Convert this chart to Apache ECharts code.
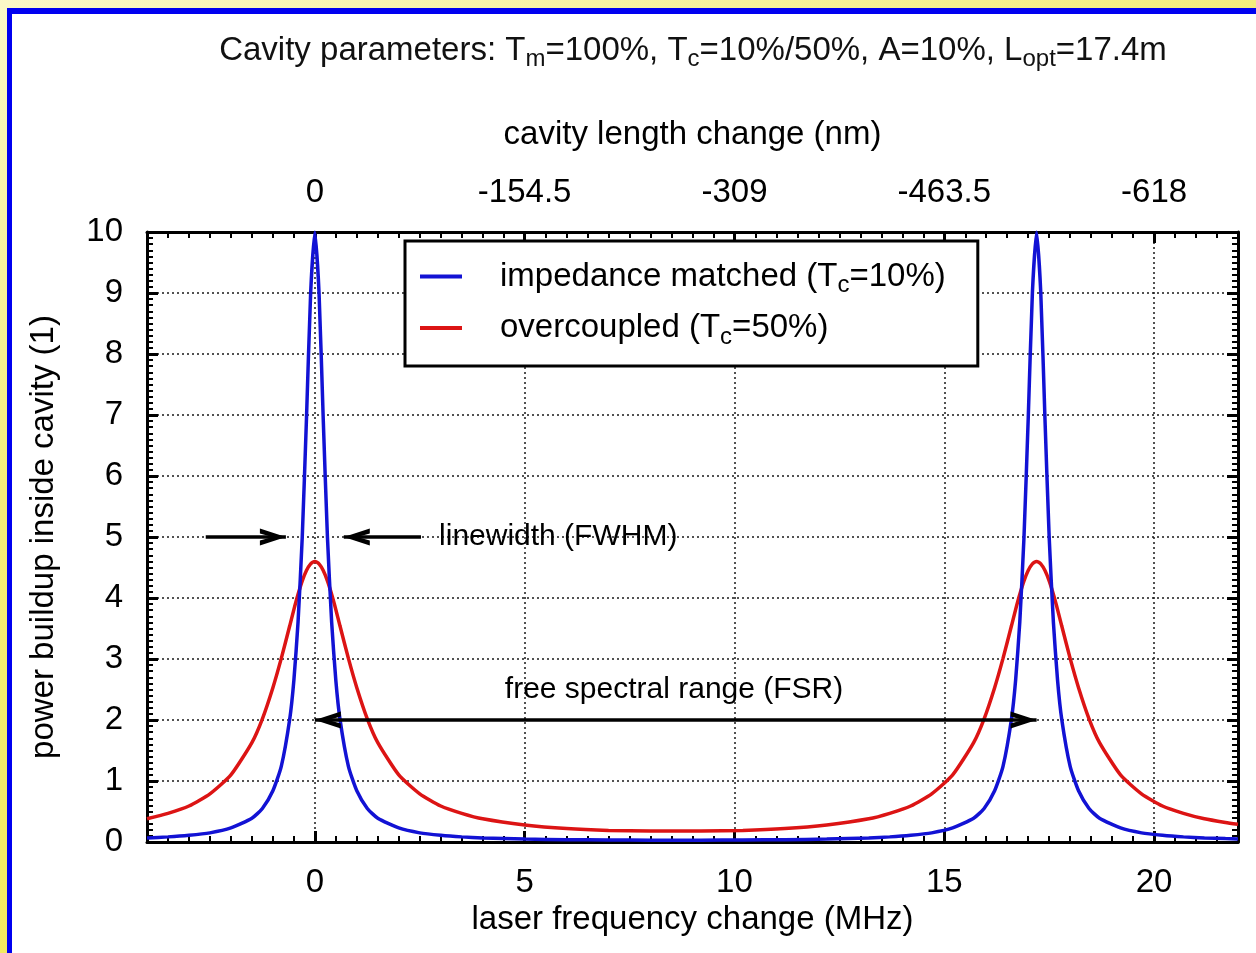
<!DOCTYPE html>
<html>
<head>
<meta charset="utf-8">
<script src="https://cdn.jsdelivr.net/npm/echarts@6/dist/echarts.min.js"></script>
<style>
html, body { margin: 0; padding: 0; width: 1256px; height: 953px; overflow: hidden; }
body { position: relative; background: linear-gradient(160deg, #fbf8c8 0%, #f4ed78 35%, #f1e846 100%); }
#frame { position: absolute; left: 7px; top: 8px; right: 0; bottom: 0; border-left: 5px solid #0000f0; border-top: 6px solid #0000f0; background: #fff; }
#main { position: absolute; left: 0; top: 0; width: 1256px; height: 953px; }
</style>
</head>
<body>
<div id="frame"></div>
<div id="main"></div>
<script>
// sample points (MHz)
var freqMHz = [
    -4, -3.5, -3, -2.5, -2, -1.5, -1.25, -1, -0.8, -0.6, -0.5, -0.4, -0.3, -0.2, -0.1, 0,
    0.1, 0.2, 0.3, 0.4, 0.5, 0.6, 0.8, 1, 1.25, 1.5, 2, 2.5, 3, 3.5, 4, 5, 6, 7, 8, 8.6,
    9.2, 10.2, 11.2, 12.2, 13.2, 13.7, 14.2, 14.7, 15.2, 15.7, 15.95, 16.2, 16.4, 16.6, 16.7, 16.8, 16.9, 17.0, 17.1, 17.2,
    17.3, 17.4, 17.5, 17.6, 17.7, 17.8, 18.0, 18.2, 18.45, 18.7, 19.2, 19.7, 20.2, 20.7, 21.2, 21.7, 22
];
// impedance matched, Tc = 10% (blue)
var matchedBuildup = [
    0.067, 0.084, 0.11, 0.15, 0.23, 0.39, 0.55, 0.84, 1.24, 2.01, 2.65, 3.61, 5.0, 6.93, 9.0, 10,
    9.0, 6.93, 5.0, 3.61, 2.65, 2.01, 1.24, 0.84, 0.55, 0.39, 0.23, 0.15, 0.11, 0.084, 0.067, 0.048, 0.038, 0.033, 0.030, 0.030,
    0.030, 0.033, 0.038, 0.048, 0.067, 0.084, 0.11, 0.15, 0.23, 0.39, 0.55, 0.84, 1.24, 2.01, 2.65, 3.61, 5.0, 6.93, 9.0, 10,
    9.0, 6.93, 5.0, 3.61, 2.65, 2.01, 1.24, 0.84, 0.55, 0.39, 0.23, 0.15, 0.11, 0.084, 0.067, 0.056, 0.051
];
// overcoupled, Tc = 50% (red)
var overcoupledBuildup = [
    0.38, 0.47, 0.59, 0.79, 1.10, 1.63, 2.02, 2.53, 3.01, 3.54, 3.81, 4.06, 4.28, 4.45, 4.56, 4.6,
    4.56, 4.45, 4.28, 4.06, 3.81, 3.54, 3.01, 2.53, 2.02, 1.63, 1.10, 0.79, 0.59, 0.47, 0.38, 0.28, 0.22, 0.19, 0.18, 0.18,
    0.18, 0.19, 0.22, 0.28, 0.38, 0.47, 0.59, 0.79, 1.10, 1.63, 2.02, 2.53, 3.01, 3.54, 3.81, 4.06, 4.28, 4.45, 4.56, 4.6,
    4.56, 4.45, 4.28, 4.06, 3.81, 3.54, 3.01, 2.53, 2.02, 1.63, 1.10, 0.79, 0.59, 0.47, 0.38, 0.32, 0.29
];
var mhzTicks = [0, 5, 10, 15, 20];
var nmTickLabels = ['0', '-154.5', '-309', '-463.5', '-618'];

var FONT = "'Liberation Sans', Arial, Helvetica, sans-serif";
var BLUE = '#1212d4';
var RED = '#dc1414';
// open arrow head, tip sits at the symbol centre
var ARROW = 'path://M5,0L5,0M5,12L10,24L7.1,24L5,18.2L2.9,24L0,24Z';
var ARROW_SIZE = [17, 52];

function pairs(xs, ys) {
    return xs.map(function (x, i) { return [x, ys[i]]; });
}

var legendText = {
    'impedance matched (Tc=10%)': '{n|impedance matched (T}{s|c}{n|=10%)}',
    'overcoupled (Tc=50%)': '{n|overcoupled (T}{s|c}{n|=50%)}'
};

var axisLineStyle = { show: true, onZero: false, lineStyle: { color: '#000', width: 3 } };
var tickStyle = { show: true, inside: true, length: 11, lineStyle: { color: '#000', width: 3 } };
var minorStyle = { show: true, splitNumber: 10, length: 6, lineStyle: { color: '#000', width: 2 } };
var gridLine = { show: true, lineStyle: { color: '#1a1a1a', width: 1.5, type: [2, 3] } };
var labelFont = { fontSize: 33, fontFamily: FONT, color: '#000' };
var nameFont = { fontSize: 33, fontFamily: FONT, color: '#000' };

var myChart = echarts.init(document.getElementById('main'));
var option = {
    animation: false,
    title: {
        text: '{n|Cavity parameters: T}{s|m}{n|=100%, T}{s|c}{n|=10%/50%, A=10%, L}{s|opt}{n|=17.4m}',
        left: 688,
        top: 26,
        textAlign: 'center',
        textStyle: {
            fontWeight: 'normal',
            rich: {
                n: { fontSize: 33, fontFamily: FONT, color: '#111', fontWeight: 'normal', lineHeight: 40 },
                s: { fontSize: 24, fontFamily: FONT, color: '#111', fontWeight: 'normal', verticalAlign: 'bottom', lineHeight: 19 }
            }
        }
    },
    legend: {
        orient: 'vertical',
        left: 405,
        top: 241,
        padding: [19, 32, 17, 15],
        itemGap: 14,
        itemWidth: 42,
        itemHeight: 4,
        icon: 'rect',
        selectedMode: false,
        backgroundColor: '#fff',
        borderColor: '#000',
        borderWidth: 3,
        borderRadius: 0,
        formatter: function (name) { return legendText[name]; },
        textStyle: {
            padding: [0, 0, 0, 33],
            rich: {
                n: { fontSize: 33, fontFamily: FONT, color: '#000', lineHeight: 42 },
                s: { fontSize: 24, fontFamily: FONT, color: '#000', verticalAlign: 'bottom', lineHeight: 20 }
            }
        }
    },
    grid: { left: 147, top: 232, right: 18, bottom: 111, outerBoundsMode: 'none' },
    xAxis: [{
        type: 'value',
        position: 'bottom',
        min: -4, max: 22, splitNumber: 5, minInterval: 5, maxInterval: 5,
        name: 'laser frequency change (MHz)',
        nameLocation: 'middle',
        nameGap: 61,
        nameTextStyle: nameFont,
        axisLine: axisLineStyle,
        axisTick: tickStyle,
        minorTick: minorStyle,
        axisLabel: Object.assign({ margin: 24, showMinLabel: false, showMaxLabel: false }, labelFont),
        splitLine: gridLine
    }, {
        type: 'value',
        position: 'top',
        min: -4, max: 22, splitNumber: 5, minInterval: 5, maxInterval: 5,
        name: 'cavity length change (nm)',
        nameLocation: 'middle',
        nameGap: 81,
        nameTextStyle: nameFont,
        axisLine: axisLineStyle,
        axisTick: tickStyle,
        minorTick: minorStyle,
        axisLabel: Object.assign({
            margin: 23, showMinLabel: false, showMaxLabel: false,
            formatter: function (v) {
                var i = mhzTicks.indexOf(v);
                return i < 0 ? '' : nmTickLabels[i];
            }
        }, labelFont),
        splitLine: { show: false }
    }],
    yAxis: [{
        type: 'value',
        position: 'left',
        min: 0, max: 10, interval: 1,
        name: 'power buildup inside cavity (1)',
        nameLocation: 'middle',
        nameGap: 87,
        nameTextStyle: nameFont,
        axisLine: axisLineStyle,
        axisTick: tickStyle,
        minorTick: minorStyle,
        axisLabel: Object.assign({ margin: 24 }, labelFont),
        splitLine: gridLine
    }, {
        type: 'value',
        position: 'right',
        min: 0, max: 10, interval: 1,
        axisLine: axisLineStyle,
        axisTick: tickStyle,
        minorTick: minorStyle,
        axisLabel: { show: false },
        splitLine: { show: false }
    }],
    series: [{
        name: 'impedance matched (Tc=10%)',
        type: 'line',
        data: pairs(freqMHz, matchedBuildup),
        symbol: 'none',
        smooth: 0.2,
        lineStyle: { color: BLUE, width: 3.5 },
        itemStyle: { color: BLUE },
        z: 3,
        markLine: {
            silent: true,
            symbol: ['none', 'none'],
            lineStyle: { color: '#000', width: 3.5, type: 'solid' },
            label: { show: false },
            emphasis: { disabled: true },
            data: [
                [{ coord: [-2.6, 5] }, { coord: [-0.69, 5], symbol: ARROW, symbolSize: ARROW_SIZE }],
                [{ coord: [2.53, 5] }, { coord: [0.69, 5], symbol: ARROW, symbolSize: ARROW_SIZE }],
                [{ coord: [0, 2], symbol: ARROW, symbolSize: ARROW_SIZE }, { coord: [17.2, 2], symbol: ARROW, symbolSize: ARROW_SIZE }]
            ]
        },
        markPoint: {
            silent: true,
            symbol: 'circle',
            symbolSize: 0,
            itemStyle: { color: 'transparent' },
            label: { show: true, color: '#000', fontSize: 30, fontFamily: FONT },
            data: [
                { coord: [2.96, 5], label: { position: 'right', distance: 0, formatter: 'linewidth (FWHM)' } },
                { coord: [8.56, 2.5], label: { position: 'inside', formatter: 'free spectral range (FSR)' } }
            ]
        }
    }, {
        name: 'overcoupled (Tc=50%)',
        type: 'line',
        data: pairs(freqMHz, overcoupledBuildup),
        symbol: 'none',
        smooth: 0.2,
        lineStyle: { color: RED, width: 3.5 },
        itemStyle: { color: RED },
        z: 2
    }]
};
myChart.setOption(option);
</script>
</body>
</html>
